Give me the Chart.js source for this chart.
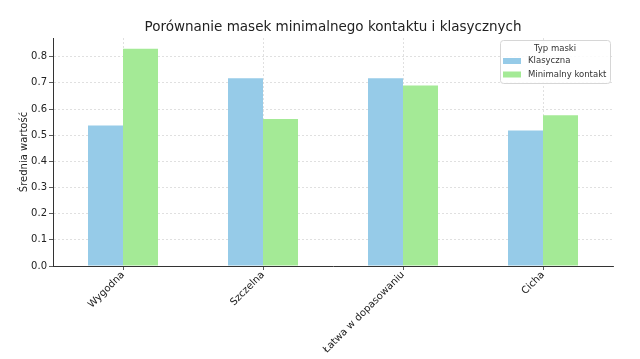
<!DOCTYPE html>
<html>
<head>
<meta charset="utf-8">
<script src="https://cdn.jsdelivr.net/npm/chart.js@4/dist/chart.umd.min.js"></script>
<style>
  html, body { margin: 0; padding: 0; background: #fff; }
  #wrap { width: 640px; height: 359px; }
</style>
</head>
<body>
<div id="wrap"><canvas id="maski"></canvas></div>
<script>
// dane
const kategorie = ['Wygodna', 'Szczelna', 'Łatwa w dopasowaniu', 'Cicha'];
const klasyczna = [0.537, 0.718, 0.718, 0.518];
const minimalny = [0.830, 0.562, 0.690, 0.576];
const serie = ['Klasyczna', 'Minimalny kontakt'];
const yTicks = [0.0, 0.1, 0.2, 0.3, 0.4, 0.5, 0.6, 0.7, 0.8];
const tytul = 'Porównanie masek minimalnego kontaktu i klasycznych';
const tytulOsiY = 'Średnia wartość';

const FONT = 'DejaVu Sans';

// tytuł nad obszarem wykresu + legenda w rogu (jak w matplotlib)
const opisPlugin = {
  id: 'opisMaski',
  afterDraw(chart) {
    const ctx = chart.ctx;
    const area = chart.chartArea;
    ctx.save();
    ctx.font = '13.5px ' + FONT;
    ctx.fillStyle = '#222';
    ctx.textAlign = 'center';
    ctx.textBaseline = 'middle';
    ctx.fillText(tytul, (area.left + area.right) / 2, 27);

    // os Y - tytuł
    ctx.save();
    ctx.translate(24, (area.top + area.bottom) / 2);
    ctx.rotate(-Math.PI / 2);
    ctx.font = '10px ' + FONT;
    ctx.fillText(tytulOsiY, 0, 0);
    ctx.restore();

    const x = 500, y = 40, w = 110, h = 43;
    ctx.fillStyle = 'rgba(255,255,255,0.85)';
    ctx.strokeStyle = '#d6d6d6';
    ctx.lineWidth = 1;
    ctx.beginPath();
    ctx.roundRect(x + 0.5, y + 0.5, w, h, 3);
    ctx.fill();
    ctx.stroke();
    ctx.font = '8.5px ' + FONT;
    ctx.fillStyle = '#333';
    ctx.fillText('Typ maski', x + w / 2, 49);
    ctx.textAlign = 'left';
    chart.data.datasets.forEach((ds, i) => {
      const cy = 61 + i * 13.5;
      ctx.fillStyle = ds.backgroundColor;
      ctx.fillRect(503, cy - 3, 18, 6);
      ctx.fillStyle = '#333';
      ctx.fillText(ds.label, 528, cy);
    });
    ctx.restore();
  }
};

new Chart(document.getElementById('maski'), {
  type: 'bar',
  data: {
    labels: kategorie,
    datasets: [
      { label: serie[0], data: klasyczna, backgroundColor: '#96cbe8' },
      { label: serie[1], data: minimalny, backgroundColor: '#a4ea96' }
    ]
  },
  options: {
    responsive: true,
    maintainAspectRatio: false,
    animation: false,
    categoryPercentage: 0.5,
    barPercentage: 1.0,
    layout: { padding: { left: 0, right: 27, top: 38, bottom: 0 } },
    plugins: {
      legend: { display: false },
      tooltip: { enabled: false },
      title: { display: false }
    },
    scales: {
      x: {
        grid: {
          offset: false,
          color: '#d9d9d9',
          lineWidth: 0.8,
          tickColor: '#333',
          tickLength: 4,
          tickBorderDash: []
        },
        border: { display: true, color: '#333', width: 1, dash: [2, 2] },
        ticks: {
          color: '#222',
          font: { family: FONT, size: 10 },
          minRotation: 45,
          maxRotation: 45,
          padding: -1
        },
        afterFit(scale) { scale.height = 93; }
      },
      y: {
        min: 0,
        max: 0.8715,
        afterBuildTicks(scale) {
          scale.ticks = yTicks.map(v => ({ value: v }));
        },
        grid: {
          color: '#d9d9d9',
          lineWidth: 0.8,
          tickColor: '#333',
          tickLength: 4,
          tickBorderDash: []
        },
        border: { display: true, color: '#333', width: 1, dash: [2, 2] },
        ticks: {
          color: '#222',
          font: { family: FONT, size: 10 },
          padding: 2,
          callback: v => Number(v).toFixed(1)
        },
        afterFit(scale) { scale.width = 53; }
      }
    }
  },
  plugins: [opisPlugin]
});
</script>
</body>
</html>
